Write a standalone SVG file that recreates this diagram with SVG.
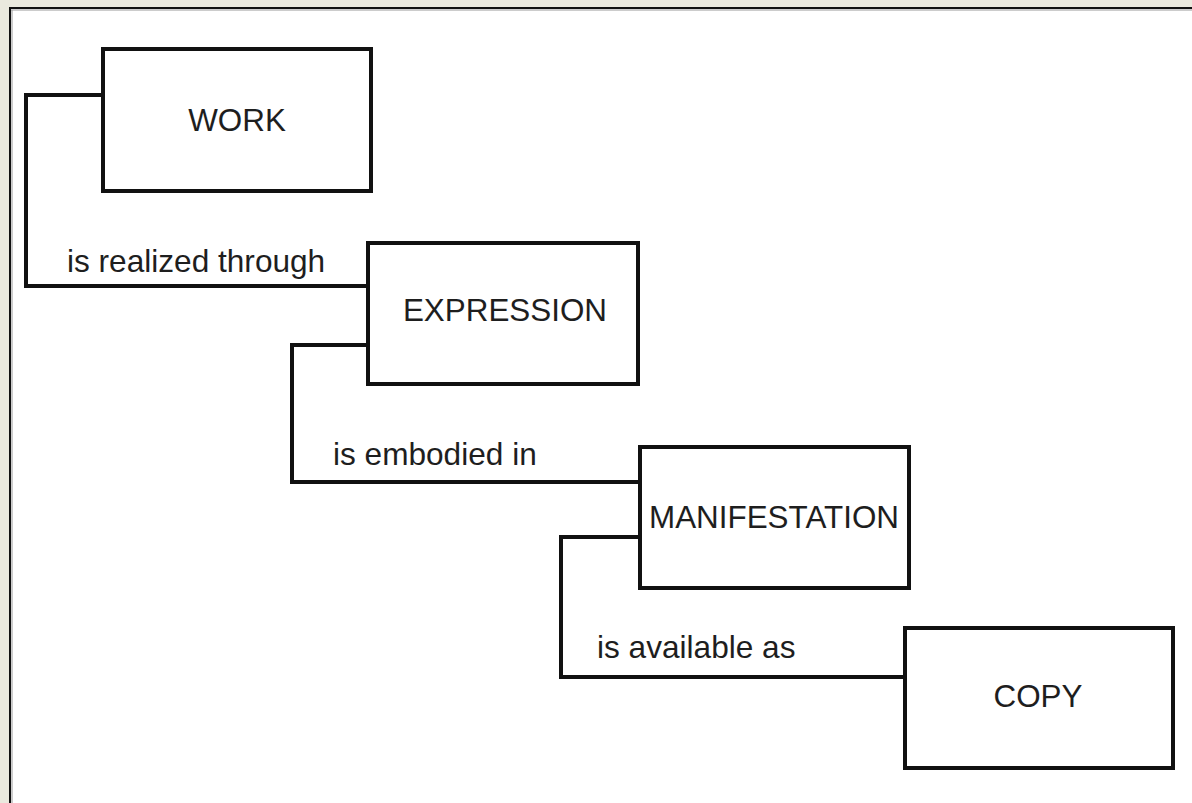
<svg xmlns="http://www.w3.org/2000/svg" width="1192" height="803" viewBox="0 0 1192 803">
  <style>
    .box { fill: #ffffff; stroke: #111111; stroke-width: 4; }
    .conn { fill: none; stroke: #111111; stroke-width: 4; stroke-linejoin: miter; }
    .lbl { font-family: "Liberation Sans", Arial, sans-serif; font-size: 31.6px; fill: #1e1e1e; }
    .name { font-family: "Liberation Sans", Arial, sans-serif; font-size: 31.4px; fill: #1e1e1e; text-anchor: middle; }
  </style>
  <rect x="0" y="0" width="1192" height="803" fill="#EAE9DE"/>
  <rect x="9" y="7" width="1183" height="796" fill="#ffffff"/>
  <line x1="10" y1="7" x2="10" y2="803" stroke="#111111" stroke-width="2"/>
  <line x1="9" y1="8" x2="1192" y2="8" stroke="#111111" stroke-width="2"/>
  <line x1="12" y1="10" x2="12" y2="803" stroke="#999999" stroke-width="1"/>
  <line x1="11" y1="10" x2="1192" y2="10" stroke="#999999" stroke-width="1"/>

  <g id="connectors">
    <polyline class="conn" stroke-width="5" points="103,95 26,95 26,286 368,286"/>
    <polyline class="conn" points="368,345 292,345 292,482 640,482"/>
    <polyline class="conn" points="640,537 561,537 561,677 905,677"/>
    <text class="lbl" x="67" y="272">is realized through</text>
    <text class="lbl" x="333" y="465">is embodied in</text>
    <text class="lbl" x="597" y="658">is available as</text>
  </g>

  <g id="work">
    <rect class="box" x="103" y="49" width="268" height="142"/>
    <text class="name" x="237" y="131">WORK</text>
  </g>
  <g id="expression">
    <rect class="box" x="368" y="243" width="270" height="141"/>
    <text class="name" x="505" y="321">EXPRESSION</text>
  </g>
  <g id="manifestation">
    <rect class="box" x="640" y="447" width="269" height="141"/>
    <text class="name" x="774" y="528">MANIFESTATION</text>
  </g>
  <g id="copy">
    <rect class="box" x="905" y="628" width="268" height="140"/>
    <text class="name" x="1038" y="707">COPY</text>
  </g>
</svg>
